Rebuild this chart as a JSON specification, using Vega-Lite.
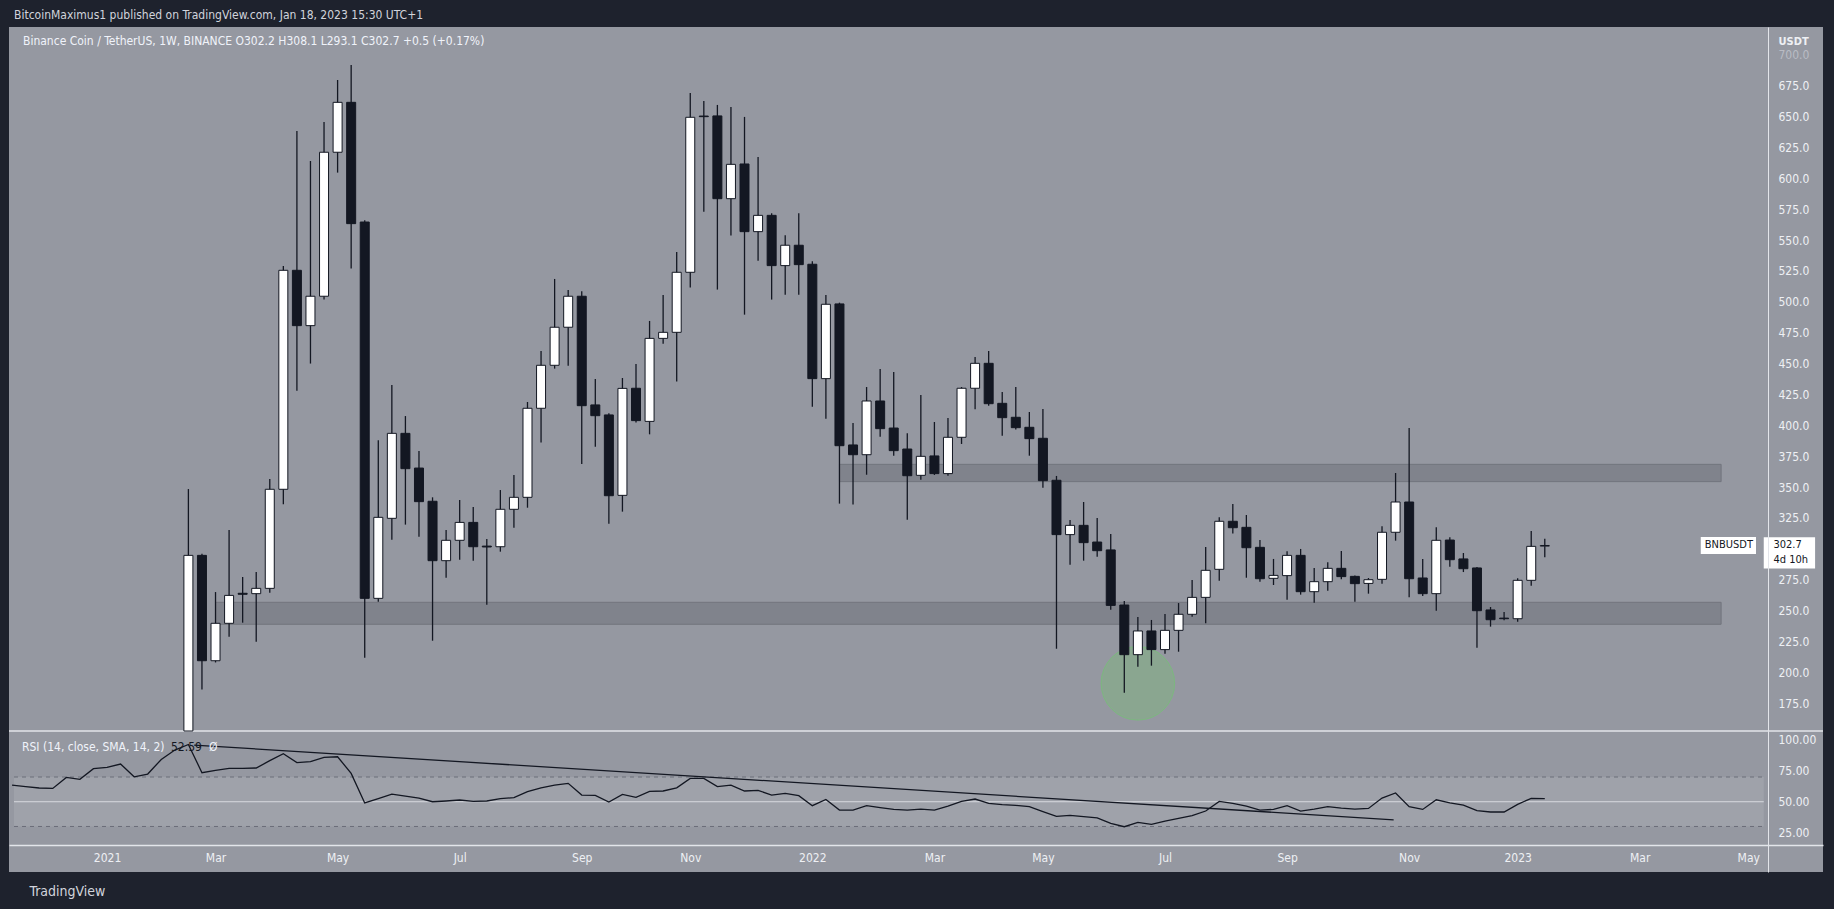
{
"$schema": "https://vega.github.io/schema/vega-lite/v6.json",
"width": 1814,
"height": 845,
"autosize": {"type": "none"},
"padding": {"left": 9, "top": 27, "right": 11, "bottom": 37},
"background": "#1e222d",
"title": {"text": "BitcoinMaximus1 published on TradingView.com, Jan 18, 2023 15:30 UTC+1", "anchor": "start", "frame": "group", "offset": 5, "dx": 5, "fontSize": 12, "fontWeight": "normal", "color": "#d1d4dc"},
"datasets": {
"candles": [
{"d":"2021-02-15","o":133,"h":348.4,"l":126,"c":294.7},
{"d":"2021-02-22","o":294.7,"h":296,"l":186,"c":209.4},
{"d":"2021-03-01","o":209.4,"h":265,"l":208,"c":239.7},
{"d":"2021-03-08","o":239.7,"h":315.2,"l":228.9,"c":262.3},
{"d":"2021-03-15","o":264,"h":277.2,"l":240.2,"c":263.2},
{"d":"2021-03-22","o":263.7,"h":281.2,"l":224.8,"c":268},
{"d":"2021-03-29","o":268,"h":356.5,"l":264.5,"c":348.2},
{"d":"2021-04-05","o":348.2,"h":529,"l":336,"c":525.5},
{"d":"2021-04-12","o":525.5,"h":638.3,"l":428,"c":480.7},
{"d":"2021-04-19","o":480.7,"h":614,"l":450,"c":504.5},
{"d":"2021-04-26","o":504.5,"h":645.6,"l":501.8,"c":621.1},
{"d":"2021-05-03","o":621.1,"h":679.6,"l":604.6,"c":661.5},
{"d":"2021-05-10","o":661.5,"h":691.8,"l":526.9,"c":563.3},
{"d":"2021-05-17","o":564.6,"h":566,"l":211.9,"c":259.9},
{"d":"2021-05-24","o":259.9,"h":388,"l":257.2,"c":325.5},
{"d":"2021-05-31","o":324.7,"h":432.7,"l":307.4,"c":393.5},
{"d":"2021-06-07","o":393.5,"h":407.5,"l":319.6,"c":364.9},
{"d":"2021-06-14","o":365.4,"h":379.2,"l":309.8,"c":338.2},
{"d":"2021-06-21","o":338.5,"h":341.7,"l":225.6,"c":290.4},
{"d":"2021-06-28","o":290.4,"h":315.2,"l":276.6,"c":306.9},
{"d":"2021-07-05","o":306.9,"h":339.5,"l":291.2,"c":321.4},
{"d":"2021-07-12","o":321.4,"h":333.9,"l":290.4,"c":301.7},
{"d":"2021-07-19","o":302.2,"h":308,"l":254.8,"c":301.5},
{"d":"2021-07-26","o":301.7,"h":347.6,"l":297.7,"c":332},
{"d":"2021-08-02","o":332,"h":359.8,"l":317.1,"c":341.7},
{"d":"2021-08-09","o":341.7,"h":418.9,"l":333.3,"c":413.8},
{"d":"2021-08-16","o":413.8,"h":460.2,"l":386,"c":448.6},
{"d":"2021-08-23","o":448.6,"h":518.5,"l":445.9,"c":479.4},
{"d":"2021-08-30","o":479.4,"h":509.6,"l":448.3,"c":504.5},
{"d":"2021-09-06","o":504.5,"h":508.5,"l":368.7,"c":415.9},
{"d":"2021-09-13","o":416.5,"h":437.5,"l":382.7,"c":407.8},
{"d":"2021-09-20","o":408.4,"h":409.7,"l":320.4,"c":343},
{"d":"2021-09-27","o":343.3,"h":438.3,"l":330.1,"c":429.9},
{"d":"2021-10-04","o":430,"h":449.7,"l":402.2,"c":403.8},
{"d":"2021-10-11","o":403.2,"h":484.5,"l":392.7,"c":470.4},
{"d":"2021-10-18","o":470.4,"h":505.5,"l":466,"c":475.3},
{"d":"2021-10-25","o":475.3,"h":540.4,"l":435.4,"c":523.9},
{"d":"2021-11-01","o":523.9,"h":669.1,"l":511.5,"c":649.4},
{"d":"2021-11-08","o":650.4,"h":662.6,"l":573,"c":649.9},
{"d":"2021-11-15","o":650.5,"h":659.4,"l":509.9,"c":583.5},
{"d":"2021-11-22","o":583.5,"h":657.8,"l":553.6,"c":611.3},
{"d":"2021-11-29","o":611.6,"h":649.7,"l":489.6,"c":556.8},
{"d":"2021-12-06","o":556.8,"h":617.3,"l":533.3,"c":570},
{"d":"2021-12-13","o":570,"h":571.7,"l":501.8,"c":529.3},
{"d":"2021-12-20","o":529.3,"h":553.8,"l":505.8,"c":545.8},
{"d":"2021-12-27","o":545.8,"h":571.7,"l":505.8,"c":530.1},
{"d":"2022-01-03","o":530.4,"h":532.8,"l":415.1,"c":437.8},
{"d":"2022-01-10","o":437.8,"h":505.5,"l":405.4,"c":498},
{"d":"2022-01-17","o":498.3,"h":499.3,"l":336.6,"c":383.5},
{"d":"2022-01-24","o":384.1,"h":401.9,"l":335.8,"c":376.2},
{"d":"2022-01-31","o":376.2,"h":431,"l":360,"c":419.7},
{"d":"2022-02-07","o":419.7,"h":445.6,"l":390.8,"c":397.3},
{"d":"2022-02-14","o":397.8,"h":443.2,"l":375.4,"c":379.5},
{"d":"2022-02-21","o":380.8,"h":393.5,"l":323.6,"c":359.2},
{"d":"2022-02-28","o":359.5,"h":424.5,"l":356,"c":374.9},
{"d":"2022-03-07","o":375.2,"h":402.7,"l":359.8,"c":360.9},
{"d":"2022-03-14","o":360.9,"h":405.9,"l":359.2,"c":390.3},
{"d":"2022-03-21","o":390.3,"h":431,"l":384.9,"c":430},
{"d":"2022-03-28","o":430,"h":455.3,"l":413,"c":450.2},
{"d":"2022-04-04","o":450.2,"h":460.2,"l":415.9,"c":417.5},
{"d":"2022-04-11","o":417.8,"h":427,"l":391.6,"c":406.2},
{"d":"2022-04-18","o":406.5,"h":431,"l":396.7,"c":398.1},
{"d":"2022-04-25","o":398.4,"h":410.8,"l":375.4,"c":389.2},
{"d":"2022-05-02","o":389.5,"h":413.2,"l":349.5,"c":355.2},
{"d":"2022-05-09","o":355.5,"h":359,"l":219.1,"c":311.5},
{"d":"2022-05-16","o":311.5,"h":323.3,"l":287.2,"c":319},
{"d":"2022-05-23","o":319,"h":337.9,"l":290.4,"c":305},
{"d":"2022-05-30","o":305.5,"h":325,"l":293.6,"c":298.5},
{"d":"2022-06-06","o":299.1,"h":312,"l":250.7,"c":254.2},
{"d":"2022-06-13","o":254.5,"h":257.8,"l":183.5,"c":214.3},
{"d":"2022-06-20","o":214.3,"h":244.8,"l":204.6,"c":233.5},
{"d":"2022-06-27","o":233.5,"h":242.4,"l":205.4,"c":218.4},
{"d":"2022-07-04","o":218.4,"h":247.2,"l":215.1,"c":234},
{"d":"2022-07-11","o":234,"h":256.1,"l":216.7,"c":247},
{"d":"2022-07-18","o":247,"h":274.8,"l":245,"c":260.7},
{"d":"2022-07-25","o":260.7,"h":301.5,"l":239.7,"c":282.6},
{"d":"2022-08-01","o":283.4,"h":325.5,"l":274.2,"c":322.3},
{"d":"2022-08-08","o":322.3,"h":336.3,"l":312.5,"c":317.1},
{"d":"2022-08-15","o":317.4,"h":327.4,"l":276.6,"c":300.9},
{"d":"2022-08-22","o":301.2,"h":307.1,"l":273.4,"c":275.8},
{"d":"2022-08-29","o":276.1,"h":291.8,"l":270.7,"c":278.5},
{"d":"2022-09-05","o":278.3,"h":298,"l":258.8,"c":294.7},
{"d":"2022-09-12","o":294.7,"h":299.9,"l":262.9,"c":265.3},
{"d":"2022-09-19","o":265.3,"h":284.5,"l":256.4,"c":273.4},
{"d":"2022-09-26","o":273.4,"h":289.1,"l":266.1,"c":284.2},
{"d":"2022-10-03","o":284.2,"h":298.2,"l":275.3,"c":277.5},
{"d":"2022-10-10","o":277.7,"h":278.5,"l":257.2,"c":271.8},
{"d":"2022-10-17","o":272,"h":276.4,"l":263.7,"c":275},
{"d":"2022-10-24","o":275.3,"h":318.2,"l":271.8,"c":313.4},
{"d":"2022-10-31","o":313.4,"h":361.4,"l":306.6,"c":337.9},
{"d":"2022-11-07","o":337.9,"h":397.8,"l":260.7,"c":275.8},
{"d":"2022-11-14","o":276.4,"h":291.8,"l":261.8,"c":263.7},
{"d":"2022-11-21","o":263.7,"h":317.4,"l":249.9,"c":306.9},
{"d":"2022-11-28","o":307.1,"h":309.3,"l":285.5,"c":291.2},
{"d":"2022-12-05","o":291.8,"h":296.6,"l":281.2,"c":283.9},
{"d":"2022-12-12","o":284.5,"h":285.3,"l":220,"c":249.9},
{"d":"2022-12-19","o":250.5,"h":252.9,"l":237,"c":242.6},
{"d":"2022-12-26","o":243.9,"h":248.8,"l":242.1,"c":243.4},
{"d":"2023-01-02","o":243.4,"h":276.1,"l":241,"c":274.5},
{"d":"2023-01-09","o":274.5,"h":314.4,"l":270.2,"c":302},
{"d":"2023-01-16","o":302.2,"h":308.1,"l":293.1,"c":302.7}
],
"rsi": [
{"d":"2020-11-16","r":63.5},{"d":"2020-11-23","r":62.2},{"d":"2020-11-30","r":61.1},{"d":"2020-12-07","r":60.8},
{"d":"2020-12-14","r":69.7},{"d":"2020-12-21","r":68.1},{"d":"2020-12-28","r":76.7},{"d":"2021-01-04","r":77.8},
{"d":"2021-01-11","r":80.5},{"d":"2021-01-18","r":70.2},{"d":"2021-01-25","r":72.4},{"d":"2021-02-01","r":84.2},
{"d":"2021-02-08","r":91.8},{"d":"2021-02-15","r":96.3},{"d":"2021-02-22","r":73.5},{"d":"2021-03-01","r":75.4},
{"d":"2021-03-08","r":77.0},{"d":"2021-03-15","r":77.0},{"d":"2021-03-22","r":77.3},{"d":"2021-03-29","r":83.2},
{"d":"2021-04-05","r":88.8},{"d":"2021-04-12","r":81.6},{"d":"2021-04-19","r":82.4},{"d":"2021-04-26","r":85.9},
{"d":"2021-05-03","r":86.4},{"d":"2021-05-10","r":72.9},{"d":"2021-05-17","r":49.0},{"d":"2021-05-24","r":52.5},
{"d":"2021-05-31","r":56.2},{"d":"2021-06-07","r":54.6},{"d":"2021-06-14","r":53.0},{"d":"2021-06-21","r":50.0},
{"d":"2021-06-28","r":50.6},{"d":"2021-07-05","r":51.4},{"d":"2021-07-12","r":50.3},{"d":"2021-07-19","r":50.6},
{"d":"2021-07-26","r":52.5},{"d":"2021-08-02","r":53.3},{"d":"2021-08-09","r":58.1},{"d":"2021-08-16","r":61.3},
{"d":"2021-08-23","r":63.5},{"d":"2021-08-30","r":64.9},{"d":"2021-09-06","r":55.4},{"d":"2021-09-13","r":55.2},
{"d":"2021-09-20","r":49.8},{"d":"2021-09-27","r":56.0},{"d":"2021-10-04","r":53.5},{"d":"2021-10-11","r":58.4},
{"d":"2021-10-18","r":58.7},{"d":"2021-10-25","r":61.3},{"d":"2021-11-01","r":68.9},{"d":"2021-11-08","r":68.9},
{"d":"2021-11-15","r":62.2},{"d":"2021-11-22","r":63.5},{"d":"2021-11-29","r":58.7},{"d":"2021-12-06","r":59.2},
{"d":"2021-12-13","r":55.4},{"d":"2021-12-20","r":56.8},{"d":"2021-12-27","r":54.9},{"d":"2022-01-03","r":46.8},
{"d":"2022-01-10","r":51.9},{"d":"2022-01-17","r":43.3},{"d":"2022-01-24","r":43.3},{"d":"2022-01-31","r":46.8},
{"d":"2022-02-07","r":45.2},{"d":"2022-02-14","r":43.8},{"d":"2022-02-21","r":43.3},{"d":"2022-02-28","r":44.1},
{"d":"2022-03-07","r":43.3},{"d":"2022-03-14","r":46.5},{"d":"2022-03-21","r":50.3},{"d":"2022-03-28","r":52.2},
{"d":"2022-04-04","r":48.7},{"d":"2022-04-11","r":47.6},{"d":"2022-04-18","r":47.1},{"d":"2022-04-25","r":46.0},
{"d":"2022-05-02","r":42.0},{"d":"2022-05-09","r":38.2},{"d":"2022-05-16","r":39.0},{"d":"2022-05-23","r":37.9},
{"d":"2022-05-30","r":37.0},{"d":"2022-06-06","r":32.5},{"d":"2022-06-13","r":29.8},{"d":"2022-06-20","r":33.3},
{"d":"2022-06-27","r":31.7},{"d":"2022-07-04","r":34.4},{"d":"2022-07-11","r":36.6},{"d":"2022-07-18","r":38.7},
{"d":"2022-07-25","r":42.5},{"d":"2022-08-01","r":50.3},{"d":"2022-08-08","r":48.7},{"d":"2022-08-15","r":46.5},
{"d":"2022-08-22","r":43.3},{"d":"2022-08-29","r":43.8},{"d":"2022-09-05","r":46.8},{"d":"2022-09-12","r":42.5},
{"d":"2022-09-19","r":44.1},{"d":"2022-09-26","r":46.0},{"d":"2022-10-03","r":44.9},{"d":"2022-10-10","r":44.1},
{"d":"2022-10-17","r":44.6},{"d":"2022-10-24","r":53.0},{"d":"2022-10-31","r":57.1},{"d":"2022-11-07","r":46.0},
{"d":"2022-11-14","r":43.8},{"d":"2022-11-21","r":51.6},{"d":"2022-11-28","r":49.0},{"d":"2022-12-05","r":47.3},
{"d":"2022-12-12","r":42.8},{"d":"2022-12-19","r":41.7},{"d":"2022-12-26","r":41.7},{"d":"2023-01-02","r":47.9},
{"d":"2023-01-09","r":52.8},{"d":"2023-01-16","r":52.59}
]
},
"layer": [
{"layer": [
 {"data": {"values": [{"d":"2021-03-01","d2":"2023-04-17","lo":238.9,"hi":256.7},{"d":"2022-01-17","d2":"2023-04-17","lo":354.4,"hi":368.4}]},
  "mark": {"type": "rect", "fill": "#80838c", "stroke": "#72757e", "strokeWidth": 1},
  "encoding": {
   "x": {"field": "d", "type": "temporal",
     "scale": {"type": "utc", "domain": [{"year": 2020, "month": 11, "date": 17, "utc": true}, {"year": 2023, "month": 6, "date": 6, "utc": true}]},
     "axis": {"orient": "bottom", "offset": -27,
       "values": [{"year":2021,"month":1,"date":4,"utc":true},{"year":2021,"month":3,"date":1,"utc":true},{"year":2021,"month":5,"date":3,"utc":true},{"year":2021,"month":7,"date":5,"utc":true},{"year":2021,"month":9,"date":6,"utc":true},{"year":2021,"month":11,"date":1,"utc":true},{"year":2022,"month":1,"date":3,"utc":true},{"year":2022,"month":3,"date":7,"utc":true},{"year":2022,"month":5,"date":2,"utc":true},{"year":2022,"month":7,"date":4,"utc":true},{"year":2022,"month":9,"date":5,"utc":true},{"year":2022,"month":11,"date":7,"utc":true},{"year":2023,"month":1,"date":2,"utc":true},{"year":2023,"month":3,"date":6,"utc":true},{"year":2023,"month":5,"date":1,"utc":true}],
       "labelExpr": "utcFormat(datum.value, '%m') == '01' ? utcFormat(datum.value, '%Y') : utcFormat(datum.value, '%b')",
       "labelPadding": 7, "ticks": false, "domain": true, "domainColor": "#e3e5ea", "domainWidth": 1.5, "grid": false,
       "labelFontSize": 12, "labelColor": "#eef0f4", "labelOverlap": false, "labelFlush": false,
       "title": "TradingView", "titleX": 20, "titleY": 46, "titleAlign": "left", "titleAnchor": "start", "titleBaseline": "middle",
       "titleFontSize": 14, "titleFontWeight": "normal", "titleColor": "#d1d4dc", "zindex": 1}},
   "x2": {"field": "d2"},
   "y": {"field": "lo", "type": "quantitative",
     "scale": {"domain": [152.5, 722.5], "range": [704, 0], "clamp": true, "zero": false, "nice": false},
     "axis": {"orient": "right", "offset": -55, "values": [175,200,225,250,275,325,350,375,400,425,450,475,500,525,550,575,600,625,650,675,700],
       "format": ".1f", "labelPadding": 10, "ticks": false, "domain": true, "domainColor": "#e3e5ea", "domainWidth": 1, "grid": false,
       "labelFontSize": 12, "labelColor": {"condition": {"test": "datum.value >= 700", "value": "#b9bcc4"}, "value": "#eef0f4"}, "labelOverlap": false,
       "title": "USDT", "titleAngle": 0, "titleX": 10, "titleY": 14, "titleAlign": "left", "titleBaseline": "middle",
       "titleFontSize": 11, "titleFontWeight": "bold", "titleColor": "#eef0f4", "zindex": 1}},
   "y2": {"field": "hi"}
  }},
 {"data": {"values": [{"p": 152.5}]},
  "mark": {"type": "rule", "color": "#e3e5ea", "strokeWidth": 1.5},
  "encoding": {"y": {"field": "p", "type": "quantitative", "scale": {"domain": [152.5, 722.5], "range": [704, 0], "clamp": true, "zero": false, "nice": false}}}},
 {"data": {"values": [{"d": "2022-06-20", "p": 191.1}]},
  "mark": {"type": "point", "shape": "circle", "filled": true, "size": 5410, "fill": "#7cb87c", "fillOpacity": 0.45, "stroke": "#74c274", "strokeOpacity": 0.7, "strokeWidth": 1},
  "encoding": {"x": {"field": "d", "type": "temporal"}, "y": {"field": "p", "type": "quantitative", "scale": {"domain": [152.5, 722.5], "range": [704, 0], "clamp": true, "zero": false, "nice": false}}}},
 {"data": {"name": "candles"},
  "mark": {"type": "rule", "color": "#131722", "strokeWidth": 1.3},
  "encoding": {"x": {"field": "d", "type": "temporal"}, "y": {"field": "l", "type": "quantitative", "scale": {"domain": [152.5, 722.5], "range": [704, 0], "clamp": true, "zero": false, "nice": false}}, "y2": {"field": "h"}}},
 {"data": {"name": "candles"},
  "mark": {"type": "bar", "width": 9, "stroke": "#131722", "strokeWidth": 1},
  "encoding": {"x": {"field": "d", "type": "temporal"}, "y": {"field": "o", "type": "quantitative", "scale": {"domain": [152.5, 722.5], "range": [704, 0], "clamp": true, "zero": false, "nice": false}}, "y2": {"field": "c"},
   "fill": {"condition": {"test": "datum.c >= datum.o", "value": "#ffffff"}, "value": "#131722"}}},
 {"data": {"values": [{"d": "2020-11-17", "p": 711.2, "t": "Binance Coin / TetherUS, 1W, BINANCE  O302.2  H308.1  L293.1  C302.7  +0.5 (+0.17%)"}]},
  "mark": {"type": "text", "align": "left", "baseline": "middle", "dx": 9, "fontSize": 12, "color": "#f0f3fa"},
  "encoding": {"x": {"field": "d", "type": "temporal"}, "y": {"field": "p", "type": "quantitative", "scale": {"domain": [152.5, 722.5], "range": [704, 0], "clamp": true, "zero": false, "nice": false}}, "text": {"field": "t"}}},
 {"data": {"values": [{"d": "2023-04-06T12:00:00Z", "d2": "2023-05-05T00:00:00Z", "lo": 295.8, "hi": 309.6}, {"d": "2023-05-09T00:00:00Z", "d2": "2023-06-04T12:00:00Z", "lo": 284.0, "hi": 309.3}]},
  "mark": {"type": "rect", "fill": "#ffffff"},
  "encoding": {"x": {"field": "d", "type": "temporal"}, "x2": {"field": "d2"}, "y": {"field": "lo", "type": "quantitative", "scale": {"domain": [152.5, 722.5], "range": [704, 0], "clamp": true, "zero": false, "nice": false}}, "y2": {"field": "hi"}}},
 {"data": {"values": [{"d": "2023-04-21T00:00:00Z", "p": 302.7, "t": "BNBUSDT"}]},
  "mark": {"type": "text", "align": "center", "baseline": "middle", "fontSize": 11, "color": "#131722"},
  "encoding": {"x": {"field": "d", "type": "temporal"}, "y": {"field": "p", "type": "quantitative", "scale": {"domain": [152.5, 722.5], "range": [704, 0], "clamp": true, "zero": false, "nice": false}}, "text": {"field": "t"}}},
 {"data": {"values": [{"d": "2023-05-14T00:00:00Z", "p": 303.3, "t": "302.7"}, {"d": "2023-05-14T00:00:00Z", "p": 290.6, "t": "4d 10h"}]},
  "mark": {"type": "text", "align": "left", "baseline": "middle", "fontSize": 11, "color": "#131722"},
  "encoding": {"x": {"field": "d", "type": "temporal"}, "y": {"field": "p", "type": "quantitative", "scale": {"domain": [152.5, 722.5], "range": [704, 0], "clamp": true, "zero": false, "nice": false}}, "text": {"field": "t"}}}
]},
{"layer": [
 {"data": {"values": [{"d": "2020-11-17", "d2": "2023-05-09", "lo": 30, "hi": 70}]},
  "mark": {"type": "rect", "fill": "#ffffff", "fillOpacity": 0.1},
  "encoding": {"x": {"field": "d", "type": "temporal"}, "x2": {"field": "d2"},
   "y": {"field": "lo", "type": "quantitative", "scale": {"domain": [-6.8, 107.2], "range": [845, 704], "zero": false, "nice": false},
     "axis": {"orient": "right", "offset": -55, "values": [25, 50, 75, 100], "format": ".2f", "labelPadding": 10, "ticks": false, "domain": true, "domainColor": "#e3e5ea", "domainWidth": 1, "grid": false,
       "labelFontSize": 12, "labelColor": "#eef0f4", "labelOverlap": false, "title": null, "zindex": 1}},
   "y2": {"field": "hi"}}},
 {"data": {"values": [{"d": "2020-11-17", "d2": "2023-05-09", "r": 70}, {"d": "2020-11-17", "d2": "2023-05-09", "r": 30}]},
  "mark": {"type": "rule", "color": "#6b6e79", "strokeDash": [4, 4], "strokeWidth": 1},
  "encoding": {"x": {"field": "d", "type": "temporal"}, "x2": {"field": "d2"}, "y": {"field": "r", "type": "quantitative", "scale": {"domain": [-6.8, 107.2], "range": [845, 704], "zero": false, "nice": false}}}},
 {"data": {"values": [{"d": "2020-11-17", "d2": "2023-05-09", "r": 50}]},
  "mark": {"type": "rule", "color": "#d8dadf", "strokeWidth": 1},
  "encoding": {"x": {"field": "d", "type": "temporal"}, "x2": {"field": "d2"}, "y": {"field": "r", "type": "quantitative", "scale": {"domain": [-6.8, 107.2], "range": [845, 704], "zero": false, "nice": false}}}},
 {"data": {"name": "rsi"},
  "mark": {"type": "line", "color": "#131722", "strokeWidth": 1.3, "clip": true},
  "encoding": {"x": {"field": "d", "type": "temporal"}, "y": {"field": "r", "type": "quantitative", "scale": {"domain": [-6.8, 107.2], "range": [845, 704], "zero": false, "nice": false}}}},
 {"data": {"values": [{"d": "2021-02-18", "r": 95.8}, {"d": "2022-10-30", "r": 35.4}]},
  "mark": {"type": "line", "color": "#131722", "strokeWidth": 1.3},
  "encoding": {"x": {"field": "d", "type": "temporal"}, "y": {"field": "r", "type": "quantitative", "scale": {"domain": [-6.8, 107.2], "range": [845, 704], "zero": false, "nice": false}}}},
 {"data": {"values": [{"d": "2020-11-17", "r": 94.5, "t": "RSI (14, close, SMA, 14, 2)"}]},
  "mark": {"type": "text", "align": "left", "baseline": "middle", "dx": 8, "fontSize": 12, "color": "#f0f3fa"},
  "encoding": {"x": {"field": "d", "type": "temporal"}, "y": {"field": "r", "type": "quantitative", "scale": {"domain": [-6.8, 107.2], "range": [845, 704], "zero": false, "nice": false}}, "text": {"field": "t"}}},
 {"data": {"values": [{"d": "2020-11-17", "r": 94.5, "t": "52.59"}]},
  "mark": {"type": "text", "align": "left", "baseline": "middle", "dx": 157, "fontSize": 12, "color": "#131722"},
  "encoding": {"x": {"field": "d", "type": "temporal"}, "y": {"field": "r", "type": "quantitative", "scale": {"domain": [-6.8, 107.2], "range": [845, 704], "zero": false, "nice": false}}, "text": {"field": "t"}}},
 {"data": {"values": [{"d": "2020-11-17", "r": 94.5, "t": "Ø"}]},
  "mark": {"type": "text", "align": "left", "baseline": "middle", "dx": 195, "fontSize": 12, "color": "#f0f3fa"},
  "encoding": {"x": {"field": "d", "type": "temporal"}, "y": {"field": "r", "type": "quantitative", "scale": {"domain": [-6.8, 107.2], "range": [845, 704], "zero": false, "nice": false}}, "text": {"field": "t"}}}
]}
],
"resolve": {"scale": {"y": "independent"}, "axis": {"y": "independent"}},
"config": {
 "font": "DejaVu Sans Condensed, Roboto, sans-serif",
 "view": {"stroke": null, "fill": "#9598a1"},
 "axis": {"labelFont": "DejaVu Sans Condensed, Roboto, sans-serif", "titleFont": "DejaVu Sans Condensed, Roboto, sans-serif"}
}
}
